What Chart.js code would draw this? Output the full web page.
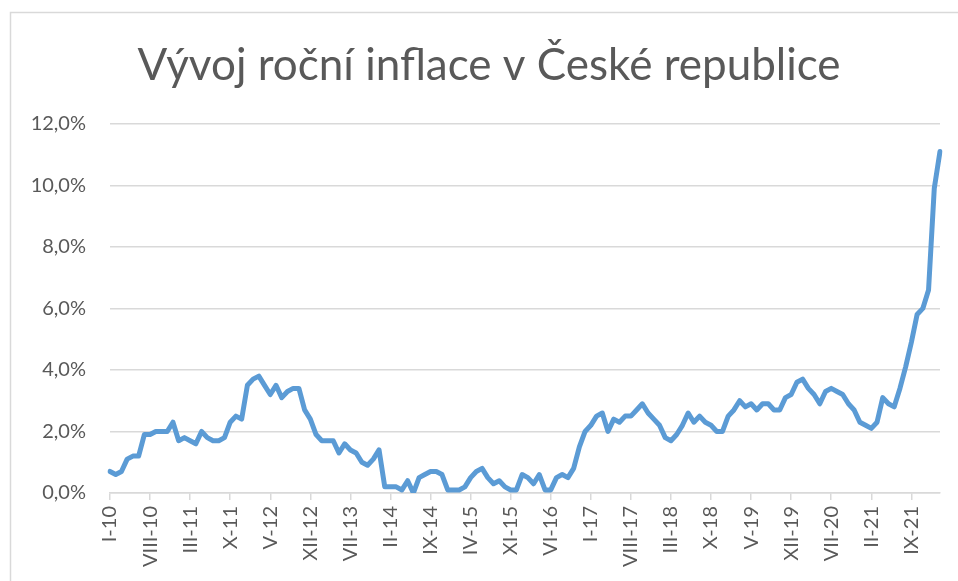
<!DOCTYPE html>
<html>
<head>
<meta charset="utf-8">
<script src="https://cdn.jsdelivr.net/npm/chart.js@4"></script>
<style>
  html,body{margin:0;padding:0;background:#fff;}
  #wrap{position:relative;width:958px;height:581px;}
</style>
</head>
<body>
<div id="wrap"><canvas id="c" width="958" height="581"></canvas></div>
<script>
const chartTitle = 'Vývoj roční inflace v České republice';
const romanMonths = ['I','II','III','IV','V','VI','VII','VIII','IX','X','XI','XII'];
const years = ['10','11','12','13','14','15','16','17','18','19','20','21','22'];
const xTickLabels = ['I-10','VIII-10','III-11','X-11','V-12','XII-12','VII-13','II-14','IX-14','IV-15','XI-15','VI-16','I-17','VIII-17','III-18','X-18','V-19','XII-19','VII-20','II-21','IX-21'];
const yTicks = [0, 2, 4, 6, 8, 10, 12];
// annual inflation rate (%), monthly, I-10 .. II-22
const inflation = [
  0.7,0.6,0.7,1.1,1.2,1.2,1.9,1.9,2.0,2.0,2.0,2.3,
  1.7,1.8,1.7,1.6,2.0,1.8,1.7,1.7,1.8,2.3,2.5,2.4,
  3.5,3.7,3.8,3.5,3.2,3.5,3.1,3.3,3.4,3.4,2.7,2.4,
  1.9,1.7,1.7,1.7,1.3,1.6,1.4,1.3,1.0,0.9,1.1,1.4,
  0.2,0.2,0.2,0.1,0.4,0.0,0.5,0.6,0.7,0.7,0.6,0.1,
  0.1,0.1,0.2,0.5,0.7,0.8,0.5,0.3,0.4,0.2,0.1,0.1,
  0.6,0.5,0.3,0.6,0.1,0.1,0.5,0.6,0.5,0.8,1.5,2.0,
  2.2,2.5,2.6,2.0,2.4,2.3,2.5,2.5,2.7,2.9,2.6,2.4,
  2.2,1.8,1.7,1.9,2.2,2.6,2.3,2.5,2.3,2.2,2.0,2.0,
  2.5,2.7,3.0,2.8,2.9,2.7,2.9,2.9,2.7,2.7,3.1,3.2,
  3.6,3.7,3.4,3.2,2.9,3.3,3.4,3.3,3.2,2.9,2.7,2.3,
  2.2,2.1,2.3,3.1,2.9,2.8,3.4,4.1,4.9,5.8,6.0,6.6,
  9.9,11.1
];
const categories = [];
for (const y of years) for (const m of romanMonths) {
  if (categories.length < inflation.length) categories.push(m + '-' + y);
}

const frame = {
  id: 'frame',
  afterLayout(chart) {
    if (chart.titleBlock) {
      chart.titleBlock.left = 38;
      chart.titleBlock.right = 940;
    }
  },
  beforeDraw(chart) {
    const ctx = chart.ctx;
    ctx.save();
    ctx.strokeStyle = '#d9d9d9';
    ctx.lineWidth = 1.5;
    ctx.strokeRect(10.5, 12.5, 1000, 1000);
    ctx.restore();
  }
};

const gridColor = '#d9d9d9';
const textColor = '#595959';
const fontFamily = 'Lato, "Open Sans", sans-serif';

new Chart(document.getElementById('c'), {
  type: 'line',
  data: {
    labels: categories,
    datasets: [{
      data: inflation,
      borderColor: '#5b9bd5',
      borderWidth: 5,
      pointRadius: 0,
      tension: 0,
      borderJoinStyle: 'round',
      borderCapStyle: 'round',
      fill: false
    }]
  },
  options: {
    responsive: false,
    animation: false,
    layout: { padding: { left: 0, right: 18, top: 0, bottom: 0 } },
    plugins: {
      legend: { display: false },
      tooltip: { enabled: false },
      title: {
        display: true,
        text: chartTitle,
        color: textColor,
        font: { family: fontFamily, size: 44, weight: 'normal', lineHeight: 1.2 },
        padding: { top: 39, bottom: 32 }
      }
    },
    scales: {
      x: {
        offset: false,
        grid: { display: true, drawOnChartArea: false, drawTicks: true, tickLength: 7, color: gridColor, lineWidth: 1.5 },
        border: { display: true, color: gridColor, width: 1.5 },
        ticks: {
          autoSkip: false,
          minRotation: 90,
          maxRotation: 90,
          padding: 6,
          color: textColor,
          font: { family: fontFamily, size: 20 },
          callback: function(value) {
            const lab = categories[value];
            return xTickLabels.includes(lab) ? lab : null;
          }
        },
        afterFit(scale) { scale.height = 88; }
      },
      y: {
        min: 0,
        max: 12,
        afterBuildTicks(scale) { scale.ticks = yTicks.map(v => ({ value: v })); },
        grid: { color: gridColor, lineWidth: 1.5, drawTicks: false },
        border: { display: false },
        ticks: {
          padding: 24,
          color: textColor,
          font: { family: fontFamily, size: 20 },
          callback: v => v.toFixed(1).replace('.', ',') + '%'
        },
        afterFit(scale) { scale.width = 110; }
      }
    }
  },
  plugins: [frame]
});
</script>
</body>
</html>
